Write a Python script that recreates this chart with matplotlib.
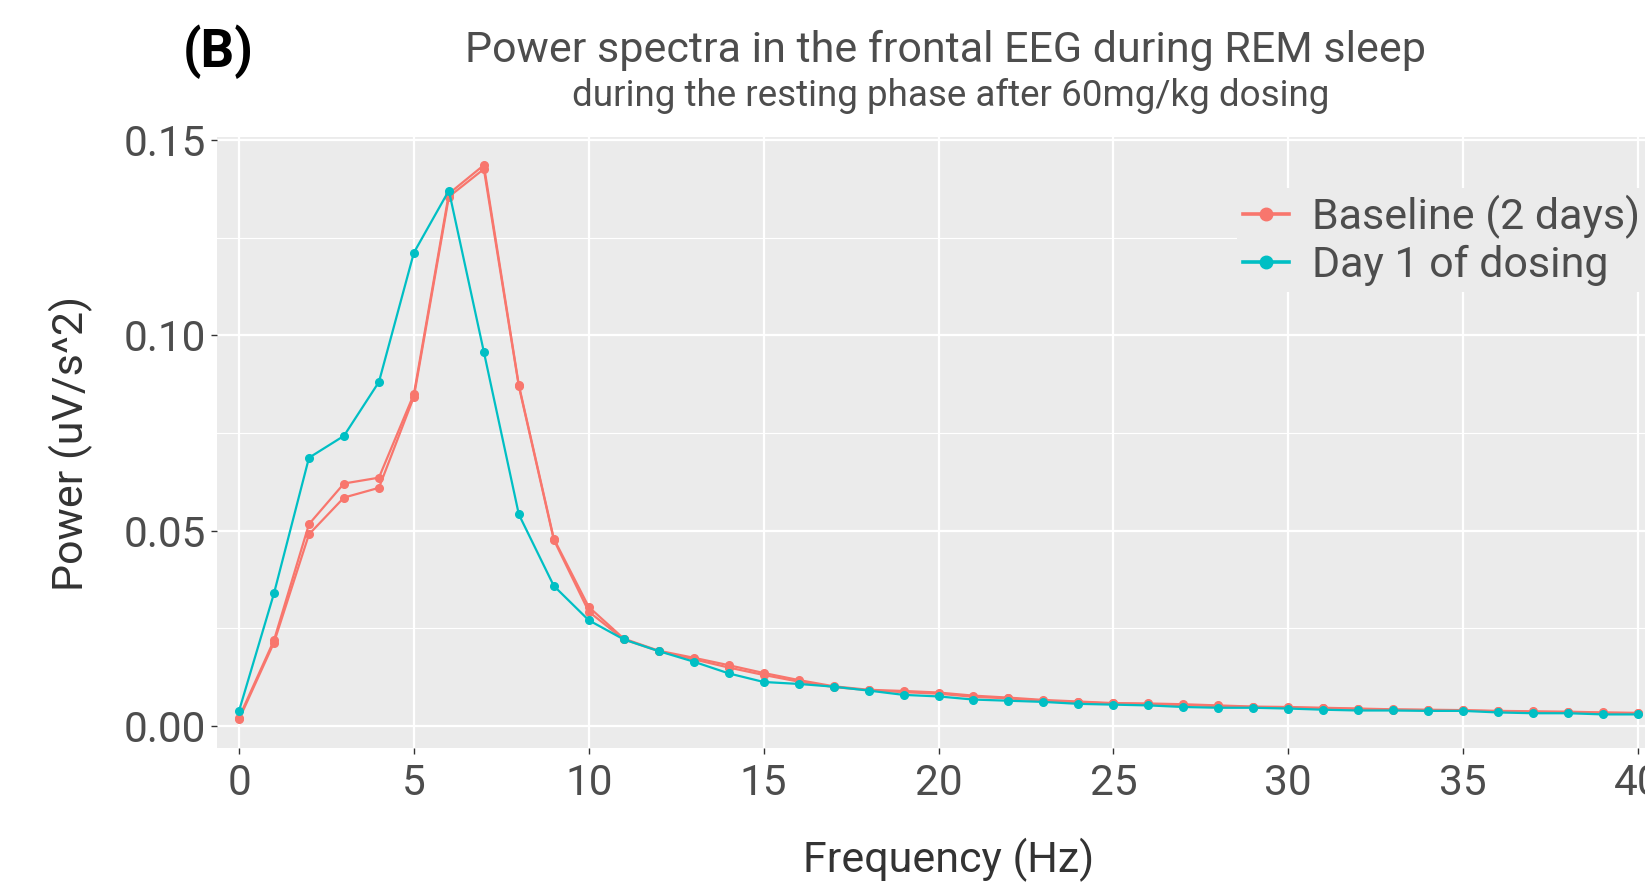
import numpy as np
import matplotlib.pyplot as plt

plt.rcParams['font.family'] = ['Roboto', 'DejaVu Sans']

freq = np.arange(0, 41)

# two baseline days (red) and first dosing day (teal)
baseline_a = [0.0022, 0.0220, 0.0517, 0.0621, 0.0636, 0.0850, 0.1363, 0.1436, 0.0873, 0.0480,
              0.0305, 0.0224, 0.0193, 0.0175, 0.0156, 0.0136, 0.0118, 0.0102, 0.0093, 0.0090,
              0.0086, 0.0078, 0.0073, 0.0067, 0.0063, 0.0059, 0.0058, 0.0056, 0.0053, 0.0050,
              0.0049, 0.0047, 0.0045, 0.0043, 0.0042, 0.0041, 0.0039, 0.0038, 0.0037, 0.0035, 0.0034]
baseline_b = [0.0017, 0.0214, 0.0491, 0.0585, 0.0610, 0.0843, 0.1355, 0.1426, 0.0870, 0.0477,
              0.0293, 0.0222, 0.0192, 0.0171, 0.0150, 0.0131, 0.0114, 0.0100, 0.0092, 0.0087,
              0.0083, 0.0075, 0.0071, 0.0065, 0.0061, 0.0058, 0.0056, 0.0054, 0.0051, 0.0049,
              0.0047, 0.0046, 0.0044, 0.0042, 0.0041, 0.0040, 0.0038, 0.0036, 0.0035, 0.0034, 0.0033]
dosing_day1 = [0.0039, 0.0340, 0.0687, 0.0743, 0.0881, 0.1212, 0.1371, 0.0958, 0.0542, 0.0359,
               0.0271, 0.0222, 0.0192, 0.0165, 0.0135, 0.0113, 0.0108, 0.0101, 0.0091, 0.0080,
               0.0076, 0.0068, 0.0065, 0.0062, 0.0057, 0.0055, 0.0053, 0.0049, 0.0047, 0.0047,
               0.0045, 0.0042, 0.0040, 0.0040, 0.0039, 0.0039, 0.0035, 0.0033, 0.0033, 0.0030, 0.0030]

red = '#F8766D'
teal = '#00BFC4'

fig = plt.figure(figsize=(16.45, 8.83), dpi=100)
ax = fig.add_axes([217/1645, 1 - 748/883, 1 - 217/1645, (748 - 137)/883])
ax.set_facecolor('#EBEBEB')
for s in ax.spines.values():
    s.set_visible(False)

ax.plot(freq, baseline_a, color=red, lw=1.6, marker='o', ms=5.5, label='Baseline (2 days)')
ax.plot(freq, baseline_b, color=red, lw=1.6, marker='o', ms=5.5)
ax.plot(freq, dosing_day1, color=teal, lw=1.6, marker='o', ms=5.5, label='Day 1 of dosing')

ax.set_xlim(-0.63, 40.2)
ax.set_ylim(-0.0056, 0.1508)
ax.set_xticks([0, 5, 10, 15, 20, 25, 30, 35, 40])
ax.set_yticks([0.0, 0.05, 0.10, 0.15])
ax.set_yticklabels(['0.00', '0.05', '0.10', '0.15'])
ax.set_yticks([0.025, 0.075, 0.125], minor=True)
ax.grid(which='major', color='white', lw=1.6)
ax.grid(which='minor', axis='y', color='white', lw=0.8)
ax.set_axisbelow(True)
ax.tick_params(which='major', length=4, width=1, color='#333333', labelcolor='#4D4D4D',
               labelsize=30.5, pad=4)
ax.tick_params(axis='x', pad=7)
ax.tick_params(which='minor', length=0)

# the original panel is cropped on the right, so the axis titles sit off-centre
ax.set_xlabel('Frequency (Hz)', fontsize=31, color='#333333', va='center')
ax.xaxis.set_label_coords(0.5126, -0.183)
ax.set_ylabel('Power (uV/s^2)', fontsize=31, color='#333333', va='center')
ax.yaxis.set_label_coords(-0.102, 0.499)

fig.text(946/1645, 1 - 50/883, 'Power spectra in the frontal EEG during REM sleep',
         ha='center', va='center', fontsize=31, color='#4D4D4D')
fig.text(951/1645, 1 - 96/883, 'during the resting phase after 60mg/kg dosing',
         ha='center', va='center', fontsize=26.5, color='#4D4D4D')
fig.text(218/1645, 1 - 52/883, '(B)', ha='center', va='center', fontsize=38,
         fontweight='bold', color='black')

leg = ax.legend(loc='upper left', bbox_to_anchor=(1237/1645, 1 - 188/883),
                bbox_transform=fig.transFigure, fontsize=31, frameon=True,
                facecolor='#EBEBEB', edgecolor='none', framealpha=1, fancybox=False,
                borderaxespad=0, borderpad=0.15, handlelength=1.05, handletextpad=0.55,
                labelspacing=0.14)
for t in leg.get_texts():
    t.set_color('#4D4D4D')
for h in leg.legend_handles:
    h.set_linewidth(2.6)
    h.set_markersize(9)

fig.savefig('out.png', dpi=100)
